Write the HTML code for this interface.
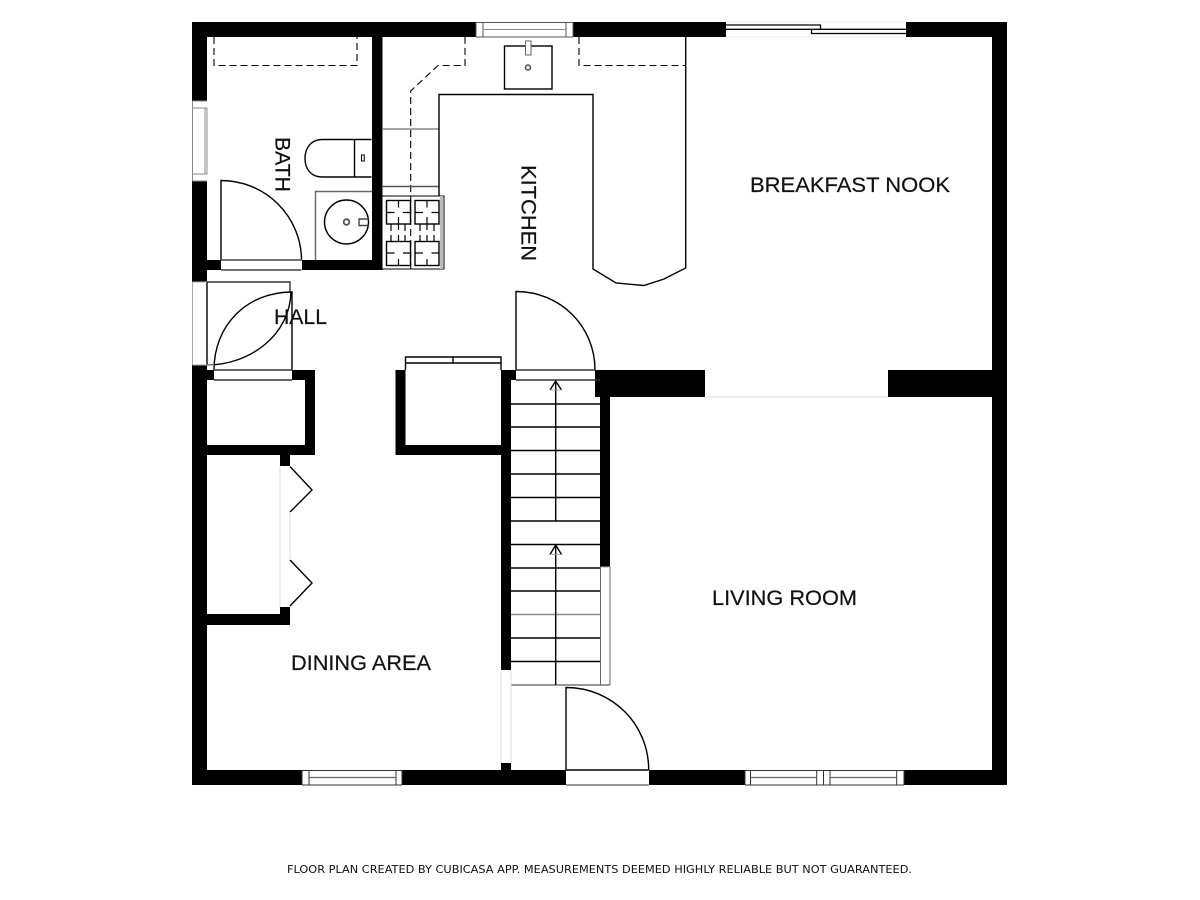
<!DOCTYPE html>
<html><head><meta charset="utf-8"><style>html,body{margin:0;padding:0;background:#fff}svg{display:block}text{font-family:"Liberation Sans",sans-serif;fill:#111;stroke:#111;stroke-width:.2px}</style></head><body>
<svg width="1200" height="900" viewBox="0 0 1200 900" xmlns="http://www.w3.org/2000/svg">
<rect width="1200" height="900" fill="#fff"/>
<!-- walls -->
<g fill="#000">
<rect x="192" y="22" width="284" height="15"/>
<rect x="573" y="22" width="153" height="15"/>
<rect x="906" y="22" width="101" height="15"/>
<rect x="992" y="22" width="15" height="763"/>
<rect x="192" y="22" width="15" height="79"/>
<rect x="192" y="181" width="15" height="101"/>
<rect x="192" y="365" width="15" height="420"/>
<rect x="192" y="770" width="110" height="15"/>
<rect x="402" y="770" width="164" height="15"/>
<rect x="649" y="770" width="96" height="15"/>
<rect x="904" y="770" width="103" height="15"/>
<rect x="372" y="37" width="10.500" height="233"/>
<rect x="207" y="260" width="14" height="10"/>
<rect x="302" y="260" width="80" height="10"/>
<rect x="207" y="370" width="7" height="10"/>
<rect x="292" y="370" width="23" height="10"/>
<rect x="305" y="370" width="10" height="85"/>
<rect x="207" y="445" width="108" height="10"/>
<rect x="280" y="455" width="10" height="11"/>
<rect x="280" y="607" width="10" height="18"/>
<rect x="207" y="614" width="83" height="11"/>
<rect x="395.500" y="370" width="10" height="85"/>
<rect x="395.500" y="445" width="110" height="10"/>
<rect x="501" y="370" width="10" height="300"/>
<rect x="501" y="763" width="10" height="8"/>
<rect x="511" y="370" width="5" height="10"/>
<rect x="595" y="370" width="110" height="27"/>
<rect x="600" y="380" width="10" height="187.500"/>
<rect x="888" y="370" width="119" height="27"/>
</g>
<g fill="none" stroke="#000" stroke-width="1.400">
<!-- bath -->
<path d="M214 37V65.500H357V37" stroke-dasharray="7 4" stroke-width="1.100"/>
<path d="M221 260V180.500A80.500 80 0 0 1 301.500 260"/>
<path d="M221 260H301.500M221 270H301.500" stroke="#444"/>
<path d="M371.500 139.500H322C312 139.500 305 147 305 158.500S312 177 322 177H371.500"/>
<path d="M354.500 139.500V177"/>
<rect x="361.500" y="155" width="2.800" height="6" stroke-width="1"/>
<path d="M315.500 260V191.500H372" stroke="#666"/>
<circle cx="346.500" cy="222" r="22"/>
<circle cx="346.500" cy="222" r="2.800" stroke="#555" stroke-width="1.800"/>
<path d="M369 219H359V225.500H369" stroke="#444"/>
<!-- bath left window -->
<path d="M192.500 101H207M192.500 108H207M192.500 174H207M192.500 181H207M192.500 101V181M207 108V174M205 108V174" stroke="#888" stroke-width="1"/>
<!-- kitchen -->
<path d="M410.700 269V91L438 65.500H465V37" stroke-dasharray="7 4" stroke-width="1.100"/>
<path d="M579 37V65.500H686" stroke-dasharray="7 4" stroke-width="1.100"/>
<path d="M382 129H439" stroke="#888"/>
<path d="M382 186.500H439" stroke="#555"/>
<path d="M439 196V94.500H593V269L616 283L644 285.500L664 279L685.700 268V37"/>
<rect x="504.500" y="46" width="47.500" height="43"/>
<rect x="525.500" y="41" width="5.500" height="14" fill="#fff" stroke="#666" stroke-width="1"/>
<circle cx="528" cy="67.500" r="2.500" stroke="#555" stroke-width="1.600"/>
<!-- top window -->
<path d="M476 22.500H573M476 37H573M476 22V37M483 22V37M566 22V37M573 22V37" stroke="#555" stroke-width="1"/>
<path d="M483 29.500H566" stroke="#888" stroke-width="1"/>
<!-- stove -->
<path d="M382 196H444V269H382" stroke-width="1"/>
<rect x="440" y="196" width="3" height="73" fill="#bbb" stroke="none"/>
<rect x="386.500" y="200.500" width="24" height="23.500"/>
<rect x="415" y="200.500" width="24" height="23.500"/>
<rect x="386.500" y="241.500" width="24" height="24"/>
<rect x="415" y="241.500" width="24" height="24"/>
<path d="M398.500 200.500v7M398.500 217v13M386.500 212.500h8M403 212.500h7.500M427 200.500v7M427 217v13M415 212.500h8M431.500 212.500h7.500M398.500 235v6.500M398.500 259v6.500M386.500 253h8M403 253h7.500M427 235v6.500M427 259v6.500M415 253h8M431.500 253h7.500M391 224v7M405 224v7M420 224v7M434 224v7M391 235v7M405 235v7M420 235v7M434 235v7" stroke-width="1.200"/>
<!-- hall door -->
<path d="M207 282H290V292" stroke="#333"/>
<path d="M207 282V365" />
<path d="M214 370C214 325 247 292 292 292V370" />
<path d="M207 365C250 365 290 335 291 292" />
<path d="M214 370H292M214 380H292" stroke="#333"/>
<path d="M192.500 282V365" stroke="#aaa" stroke-width="1"/>
<path d="M192.500 282H207M192.500 365H214" stroke="#aaa" stroke-width="1"/>
<!-- closet doors -->
<path d="M290 466.500L312 490L290 512"/>
<path d="M290 560L312 583L290 606"/>
<path d="M280 466V607M290 512V560" stroke="#ddd" stroke-width="1"/>
<path d="M405.500 370V357H501V370M405.500 363H501M453 357V363" />
<!-- door above stairs -->
<path d="M516 370V291.500C560 291.500 595 326 595 370"/>
<path d="M516 370H595M516 380H600" stroke="#333"/>
<!-- treads -->
<path d="M511 404H600M511 427H600M511 450.500H600M511 474H600M511 497.500H600M511 521H600M511 544.500H600M511 568H600M511 591H600M511 638H600M511 661.500H600"/>
<path d="M511 614.500H600" stroke="#888"/>
<path d="M511 685H610" stroke="#777"/>
<path d="M555.700 521V381M550 390L555.700 381L561.500 390"/>
<path d="M555.700 685V545M550 554.500L555.700 545L561.500 554.500"/>
<path d="M550 390H561.500M550 554.500H561.500" stroke="#999" stroke-width="0.800"/>
<path d="M600.500 567V685M610 567V685" stroke="#666" stroke-width="1"/>
<path d="M600.500 567H610" stroke="#aaa" stroke-width="1"/>
<path d="M501 670V763M511 670V763" stroke="#ddd" stroke-width="1"/>
<!-- entry door -->
<path d="M566 770V687.500C612 687.500 648.700 724 648.700 770"/>
<path d="M566 770H648.700" />
<path d="M566 785H648.700" stroke="#777"/>
<!-- sliding door -->
<path d="M726 25H820.500V29.300H726M811.500 29.300V33.500H906M811.500 29.300H906" stroke-width="1.300"/>
<path d="M726 22H906M726 37H906" stroke="#eee" stroke-width="1"/>
<path d="M705 397H888" stroke="#ddd" stroke-width="1"/>
<!-- bottom windows -->
<g stroke="#333" stroke-width="1">
<path d="M302 770.500H402M302 785H402M302 770V785M309 770V785M396 770V785M402 770V785"/>
<path d="M745 770.500H904M745 785H904M745 770V785M750.500 770V785M816.700 770V785M823.500 770V785M830 770V785M896.700 770V785M904 770V785"/>
</g>
<path d="M309 777.500H396M750.500 777.500H816.700M830 777.500H896.700" stroke="#666" stroke-width="1.200"/>
</g>
<!-- labels -->
<text x="750" y="192" font-size="21.500" textLength="200" lengthAdjust="spacingAndGlyphs">BREAKFAST NOOK</text>
<text x="712" y="605" font-size="21.500" textLength="145" lengthAdjust="spacingAndGlyphs">LIVING ROOM</text>
<text x="291" y="670" font-size="21.500" textLength="140" lengthAdjust="spacingAndGlyphs">DINING AREA</text>
<text x="274" y="324" font-size="21.500" textLength="53" lengthAdjust="spacingAndGlyphs">HALL</text>
<text transform="translate(521.500,165) rotate(90)" font-size="21.500" textLength="96" lengthAdjust="spacingAndGlyphs">KITCHEN</text>
<text transform="translate(275.500,137) rotate(90)" font-size="21.500" textLength="55" lengthAdjust="spacingAndGlyphs">BATH</text>
<text x="287" y="873" font-size="11" textLength="625" lengthAdjust="spacingAndGlyphs" style="font-family:'DejaVu Sans',sans-serif;stroke:none">FLOOR PLAN CREATED BY CUBICASA APP. MEASUREMENTS DEEMED HIGHLY RELIABLE BUT NOT GUARANTEED.</text>
</svg>
</body></html>
